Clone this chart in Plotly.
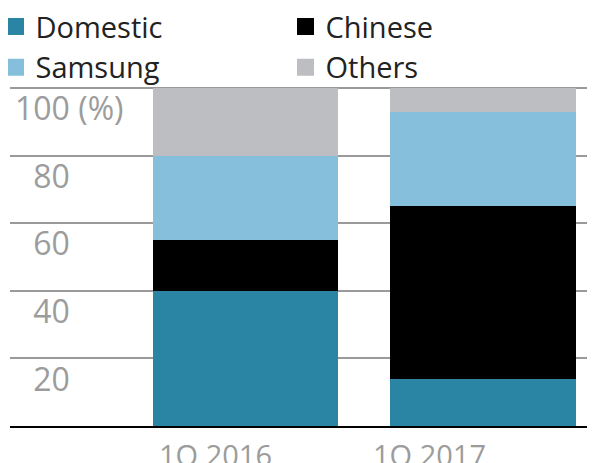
import plotly.graph_objects as go

categories = ["1Q 2016", "1Q 2017"]
series_names = ["Domestic", "Chinese", "Samsung", "Others"]
domestic = [40, 14]
chinese = [15, 51]
samsung = [25, 28]
others = [20, 7]
series_values = [domestic, chinese, samsung, others]
colors = ["#2a85a5", "#000000", "#85bfdb", "#bcbec1"]
tick_vals = [20, 40, 60, 80, 100]
tick_text = ["\u200720", "\u200740", "\u200760", "\u200780", "100 (%)"]
label_shift = [-30, -54]

# the page body adds an 8px margin, so the figure is 8px smaller each way
W, H = 587, 455

fig = go.Figure()
for name, vals, col in zip(series_names, series_values, colors):
    fig.add_trace(go.Bar(
        x=categories, y=vals, name=name, showlegend=False,
        marker=dict(color=col, line=dict(width=0)),
        width=0.78,
    ))
# legend entries (larger squares)
for name, col in zip(series_names, colors):
    fig.add_trace(go.Bar(
        x=categories, y=[None] * len(categories), name=name, showlegend=True,
        marker=dict(color=col, line=dict(color=col, width=5)),
        hoverinfo="skip",
    ))

for cat, dx in zip(categories, label_shift):
    fig.add_annotation(
        x=cat, xref="x", y=0, yref="paper", yanchor="top", xanchor="center",
        text=cat, showarrow=False, xshift=dx, yshift=-7,
        font=dict(size=29, color="#9c9c9c"),
    )

fig.update_layout(
    barmode="stack",
    width=W, height=H,
    margin=dict(l=2, r=0, t=70, b=37, autoexpand=False),
    paper_bgcolor="white", plot_bgcolor="white",
    font=dict(family="Open Sans", size=29, color="#222222"),
    showlegend=True,
    legend=dict(
        orientation="h",
        xref="paper", yref="paper",
        x=-0.0248, y=1.221, xanchor="left", yanchor="top",
        entrywidth=245, entrywidthmode="pixels",
        traceorder="normal",
        font=dict(size=29, color="#222222"),
        bgcolor="rgba(0,0,0,0)", itemclick=False,
        tracegroupgap=0,
    ),
    bargap=0.2,
)

fig.update_xaxes(
    range=[-0.99, 1.47],
    showline=True, linecolor="#000000", linewidth=2,
    showgrid=False, ticks="", showticklabels=False,
)
fig.update_yaxes(
    range=[0, 103],
    tickvals=tick_vals, ticktext=tick_text,
    showgrid=True, gridcolor="#9a9a9a", gridwidth=2,
    zeroline=False, showline=False, ticks="",
    ticklabelposition="inside",
    ticklabelshift=21,
    ticklabelstandoff=2,
    tickfont=dict(size=32, color="#9c9c9c"),
)

fig.write_html("out.html")
